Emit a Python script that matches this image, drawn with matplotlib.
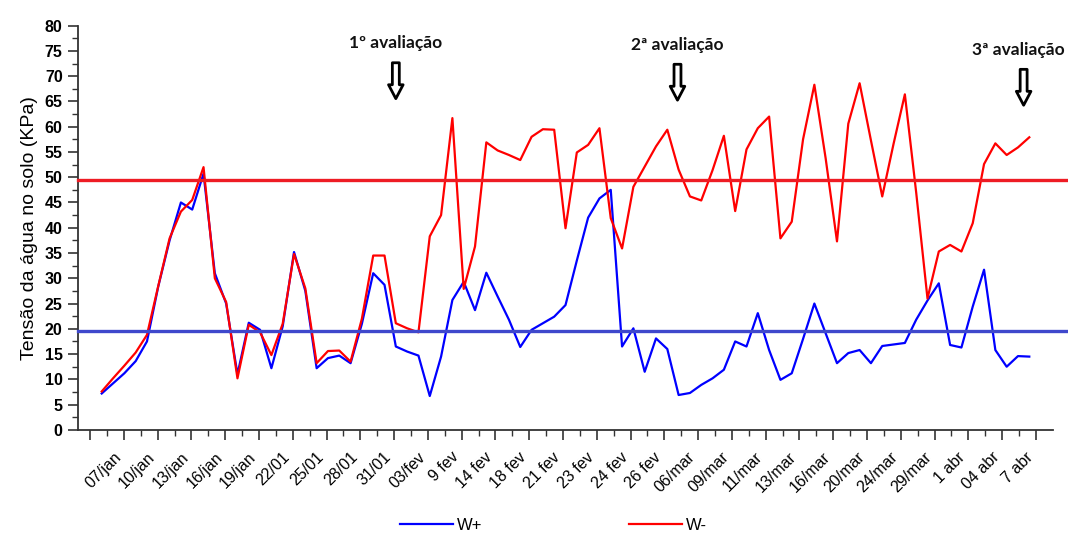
import numpy as np
import matplotlib
matplotlib.use("Agg")
import matplotlib.pyplot as plt
from matplotlib.ticker import FixedLocator

plt.rcParams['font.family'] = ['Liberation Sans', 'DejaVu Sans']

# datas de leitura (rótulos do eixo x, um a cada 3 leituras)
datas = ["07/jan", "10/jan", "13/jan", "16/jan", "19/jan", "22/01", "25/01",
         "28/01", "31/01", "03/fev", "9 fev", "14 fev", "18 fev", "21 fev",
         "23 fev", "24 fev", "26 fev", "06/mar", "09/mar", "11/mar", "13/mar",
         "16/mar", "20/mar", "24/mar", "29/mar", "1 abr", "04 abr", "7 abr"]

# tensão da água no solo (kPa) - tratamento W+
w_mais = [7.2, 9.2, 11.2, 13.6, 17.5, 28.4, 37.5, 45.0, 43.6, 50.7,
          31.0, 25.0, 11.0, 21.2, 19.8, 12.2, 20.5, 35.2, 27.5, 12.2,
          14.2, 14.7, 13.2, 21.0, 31.0, 28.7, 16.5, 15.5, 14.7, 6.7,
          14.5, 25.7, 29.3, 23.7, 31.1, 26.4, 21.8, 16.4, 19.8, 21.1,
          22.4, 24.7, 33.5, 42.0, 45.8, 47.5, 16.5, 20.1, 11.5, 18.1,
          16.0, 6.9, 7.3, 8.9, 10.2, 11.9, 17.5, 16.5, 23.1, 15.8,
          9.9, 11.2, 18.0, 25.0, 19.1, 13.2, 15.2, 15.8, 13.2, 16.6,
          16.9, 17.2, 21.8, 25.6, 29.0, 16.8, 16.3, 24.4, 31.7, 15.8,
          12.5, 14.6, 14.5]

# tratamento W-
w_menos = [7.6, 10.2, 12.7, 15.3, 18.8, 28.5, 37.9, 43.2, 45.5, 52.0,
           30.0, 25.3, 10.2, 20.8, 19.3, 14.8, 21.0, 34.8, 28.0, 13.2,
           15.6, 15.7, 13.5, 22.0, 34.5, 34.5, 21.1, 20.1, 19.3, 38.3,
           42.5, 61.7, 27.9, 36.3, 56.9, 55.3, 54.4, 53.4, 58.0, 59.5,
           59.4, 39.9, 54.9, 56.4, 59.7, 41.9, 35.9, 48.1, 52.1, 56.1,
           59.4, 51.5, 46.2, 45.4, 51.4, 58.2, 43.3, 55.5, 59.7, 62.0,
           37.9, 41.2, 57.5, 68.3, 53.7, 37.3, 60.6, 68.6, 57.3, 46.2,
           56.6, 66.4, 47.0, 26.0, 35.3, 36.6, 35.3, 40.9, 52.6, 56.7,
           54.4, 55.9, 57.9]

# limites de irrigação de cada tratamento
limite_w_mais = 19.6
limite_w_menos = 49.5

# avaliações: texto, posição (leitura), altura do texto
avaliacoes = [("1º avaliação", 26.0, 76.5),
              ("2ª avaliação", 50.9, 76.2),
              ("3ª avaliação", 81.5, 75.2)]

x = np.arange(len(w_mais))

fig = plt.figure(figsize=(10.68, 5.34), dpi=100)
ax = fig.add_axes([0.073, 0.195, 0.913, 0.757])

l1, = ax.plot(x, w_mais, color="#0000ff", lw=1.6, zorder=3)
l2, = ax.plot(x, w_menos, color="#ff0000", lw=1.6, zorder=4)
ax.axhline(limite_w_menos, xmax=1.016, color="#ee1c24", lw=2.4, zorder=5, clip_on=False)
ax.axhline(limite_w_mais, xmax=1.016, color="#3f48cc", lw=2.4, zorder=5, clip_on=False)

ax.set_xlim(-2.1, 84.1)
ax.set_ylim(0, 80)

# eixo y
ax.set_yticks(np.arange(0, 81, 5))
ax.yaxis.set_minor_locator(FixedLocator(np.arange(2.5, 80, 5)))
for lab in ax.get_yticklabels():
    lab.set_fontweight("bold")
    lab.set_fontsize(11.5)
ax.set_ylabel("Tensão da água no solo (KPa)", fontsize=14, labelpad=5)

# eixo x: marcas a cada 3 leituras
ticks = np.linspace(-1.03, 82.58, len(datas) + 1)
ax.set_xticks(ticks)
ax.set_xticklabels([""] + datas, rotation=45, ha="right", fontsize=11.5)
ax.xaxis.set_minor_locator(FixedLocator((ticks[:-1] + ticks[1:]) / 2))

ax.tick_params(which="major", length=7, width=1.2, color="#333333", pad=4)
ax.tick_params(which="minor", length=4, width=1.0, color="#333333")
ax.tick_params(axis="x", which="major", pad=7)

for s in ["top", "right"]:
    ax.spines[s].set_visible(False)
for s in ["left", "bottom"]:
    ax.spines[s].set_color("#333333")
    ax.spines[s].set_linewidth(1.3)

# setas das avaliações
for texto, pos, topo in avaliacoes:
    desloc = 0.45 if texto.startswith("3") else 0
    ax.text(pos - desloc, topo, texto, ha="center", va="center",
            fontsize=12.5, fontweight="bold", family=["Lato", "DejaVu Sans"],
            color="#111111", clip_on=False)
    ax.annotate("", xy=(pos, topo - 11.5), xytext=(pos, topo - 3.3),
                arrowprops=dict(arrowstyle="simple,head_width=1.05,head_length=1.0,tail_width=0.5",
                                fc="white", ec="black", lw=2.0),
                annotation_clip=False)

fig.legend([l1, l2], ["W+", "W-"], loc="center", bbox_to_anchor=(0.518, 0.016),
           ncol=2, frameon=False, fontsize=12, handlelength=3.2,
           handletextpad=0.2, columnspacing=8.8)

fig.savefig("out.png", dpi=100)
